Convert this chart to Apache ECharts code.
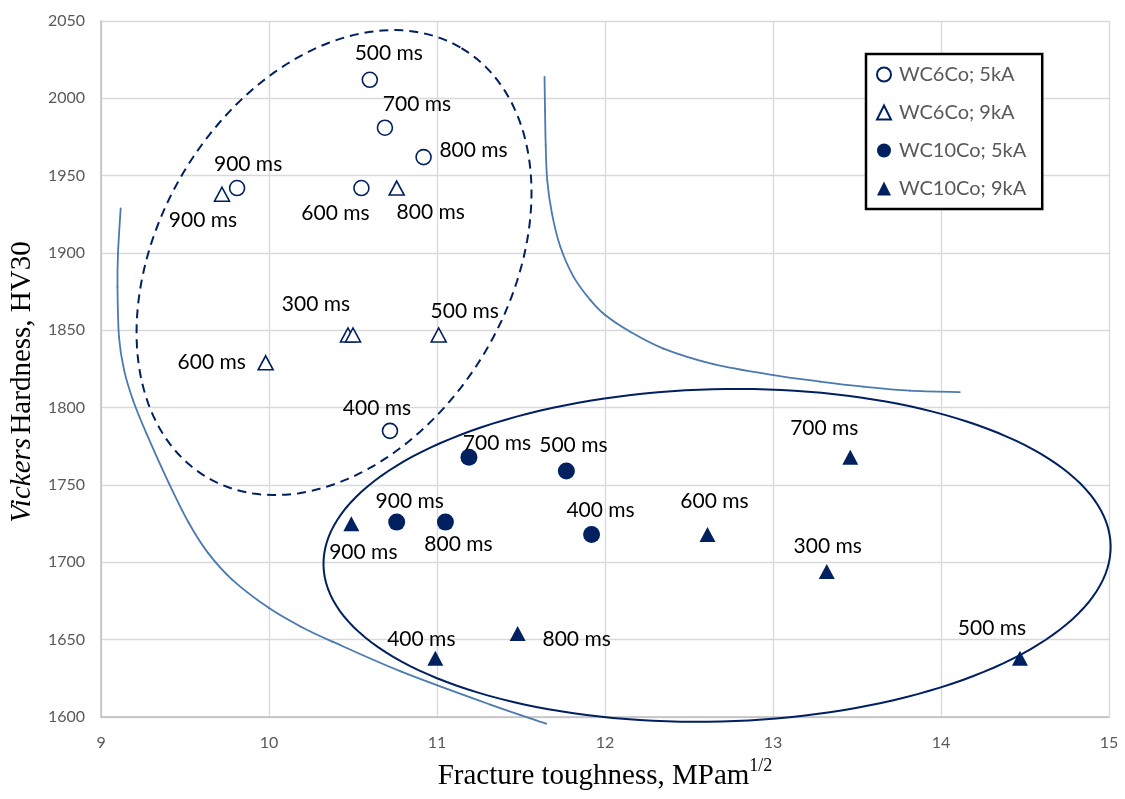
<!DOCTYPE html>
<html><head><meta charset="utf-8">
<script src="https://cdn.jsdelivr.net/npm/echarts@6/dist/echarts.min.js"></script>
<style>html,body{margin:0;padding:0;background:#fff}#c{width:1125px;height:799px}</style>
</head><body><div id="c"></div>
<script>
// ---------- data ----------
const seriesNames = ['WC6Co; 5kA', 'WC6Co; 9kA', 'WC10Co; 5kA', 'WC10Co; 9kA'];

const wc6_5kA_toughness = [10.60, 10.69, 10.92, 9.81, 10.55, 10.72];
const wc6_5kA_hardness  = [2012, 1981, 1962, 1942, 1942, 1785];
const wc6_5kA_labels    = ['500 ms', '700 ms', '800 ms', '900 ms', '600 ms', '400 ms'];

const wc6_9kA_toughness = [9.72, 10.76, 10.47, 10.50, 11.01, 9.98];
const wc6_9kA_hardness  = [1938, 1942, 1847, 1847, 1847, 1829];
const wc6_9kA_labels    = ['900 ms', '800 ms', '300 ms', '', '500 ms', '600 ms'];

const wc10_5kA_toughness = [11.19, 11.77, 10.76, 11.05, 11.92];
const wc10_5kA_hardness  = [1768, 1759, 1726, 1726, 1718];
const wc10_5kA_labels    = ['700 ms', '500 ms', '900 ms', '800 ms', '400 ms'];

const wc10_9kA_toughness = [10.49, 10.99, 11.48, 13.46, 12.61, 13.32, 14.47];
const wc10_9kA_hardness  = [1725, 1638, 1654, 1768, 1718, 1694, 1638];
const wc10_9kA_labels    = ['900 ms', '400 ms', '800 ms', '700 ms', '600 ms', '300 ms', '500 ms'];

// hand-drawn guide curves (annotation)
const leftCurveX  = [9.117, 9.101, 9.098, 9.107, 9.137, 9.190, 9.269, 9.403, 9.522, 9.637, 9.782, 9.998, 10.190, 10.378, 10.788, 11.317, 11.650];
const leftCurveY  = [1928.8, 1899.7, 1878.2, 1845.7, 1824.4, 1805.0, 1783.7, 1751.4, 1725.6, 1706.1, 1688.7, 1670.6, 1658.4, 1648.7, 1629.3, 1608.0, 1595.7];
const rightCurveX = [11.640, 11.643, 11.647, 11.656, 11.684, 11.734, 11.813, 11.912, 12.001, 12.150, 12.348, 12.645, 13.002, 13.279, 13.537, 13.814, 14.112];
const rightCurveY = [2013.8, 1992.3, 1969.7, 1947.1, 1925.6, 1904.0, 1884.6, 1869.7, 1859.9, 1849.1, 1838.2, 1828.2, 1821.1, 1816.9, 1813.6, 1811.0, 1810.1];

// ---------- layout (label offsets in px from marker centre) ----------
const wc6_5kA_off  = [[19,-27],[32,-23],[50,-7],[11,-24],[-26,25],[-13,-23]];
const wc6_9kA_off  = [[-19,26],[34,24],[-32,-31],[0,0],[26,-24],[-54,-1]];
const wc10_5kA_off = [[28,-14],[7,-26],[13,-21],[13,22],[9,-24]];
const wc10_9kA_off = [[12,29],[-14,-19],[59,6],[-26,-29],[7,-33],[1,-25],[-28,-30]];

const NAVY = '#002060';
const CURVE = '#4a7ab0';
const LBL_FONT = 'Lato, "Noto Sans", sans-serif';
const SERIF = '"Liberation Serif", "Times New Roman", serif';

function pts(xs, ys, labels, offs) {
  return xs.map((x, i) => ({
    value: [x, ys[i]],
    name: labels[i],
    label: { show: labels[i] !== '', offset: offs[i] }
  }));
}

const labelStyle = {
  position: 'inside', formatter: p => p.name,
  color: '#000', fontSize: 21, fontFamily: LBL_FONT
};

const chart = echarts.init(document.getElementById('c'), null, { renderer: 'canvas' });

const option = {
  backgroundColor: '#fff',
  animation: false,
  grid: { left: 100, right: 16, top: 21, bottom: 82 },
  xAxis: {
    type: 'value', min: 9, max: 15, interval: 1,
    axisLine: { show: true, lineStyle: { color: '#bfbfbf', width: 1.5 } },
    axisTick: { show: false },
    splitLine: { show: true, lineStyle: { color: '#d9d9d9', width: 1.3 } },
    axisLabel: { color: '#595959', fontSize: 16, fontFamily: LBL_FONT, margin: 18, formatter: v => String(v) },
    name: '{a|Fracture toughness, MPam}{b|1/2}',
    nameLocation: 'middle', nameGap: 40,
    nameTextStyle: {
      rich: {
        a: { fontFamily: SERIF, fontSize: 29, color: '#000', lineHeight: 34, verticalAlign: 'bottom' },
        b: { fontFamily: SERIF, fontSize: 18, color: '#000', lineHeight: 34, verticalAlign: 'top' }
      }
    }
  },
  yAxis: {
    type: 'value', min: 1600, max: 2050, interval: 50,
    axisLine: { show: true, lineStyle: { color: '#bfbfbf', width: 1.5 } },
    axisTick: { show: false },
    splitLine: { show: true, lineStyle: { color: '#d9d9d9', width: 1.3 } },
    axisLabel: { color: '#595959', fontSize: 16, fontFamily: LBL_FONT, margin: 16, formatter: v => String(v) },
    name: '{i|Vickers} {n|Hardness, HV30}',
    nameLocation: 'middle', nameGap: 54,
    nameTextStyle: {
      padding: [0, 26, 0, 0],
      rich: {
        i: { fontFamily: SERIF, fontStyle: 'italic', fontSize: 29, color: '#000' },
        n: { fontFamily: SERIF, fontSize: 29, color: '#000' }
      }
    }
  },
  legend: {
    data: seriesNames,
    orient: 'vertical', left: 866, top: 54,
    padding: [10, 16, 10, 10],
    itemWidth: 14, itemHeight: 14, itemGap: 17,
    borderColor: '#000', borderWidth: 2.5, backgroundColor: '#fff',
    textStyle: { color: '#595959', fontSize: 20, fontFamily: LBL_FONT, lineHeight: 21, padding: [0, 0, 0, 3] }
  },
  series: [
    {
      name: seriesNames[0], type: 'scatter', symbol: 'circle', symbolSize: 15,
      itemStyle: { color: '#fff', borderColor: NAVY, borderWidth: 1.6, opacity: 1 },
      label: labelStyle,
      data: pts(wc6_5kA_toughness, wc6_5kA_hardness, wc6_5kA_labels, wc6_5kA_off)
    },
    {
      name: seriesNames[1], type: 'scatter', symbol: 'triangle', symbolSize: [15, 14],
      itemStyle: { color: '#fff', borderColor: NAVY, borderWidth: 1.6, opacity: 1 },
      label: labelStyle,
      data: pts(wc6_9kA_toughness, wc6_9kA_hardness, wc6_9kA_labels, wc6_9kA_off)
    },
    {
      name: seriesNames[2], type: 'scatter', symbol: 'circle', symbolSize: 17,
      itemStyle: { color: NAVY, opacity: 1 },
      label: labelStyle,
      data: pts(wc10_5kA_toughness, wc10_5kA_hardness, wc10_5kA_labels, wc10_5kA_off)
    },
    {
      name: seriesNames[3], type: 'scatter', symbol: 'triangle', symbolSize: [16, 15],
      itemStyle: { color: NAVY, opacity: 1 },
      label: labelStyle,
      data: pts(wc10_9kA_toughness, wc10_9kA_hardness, wc10_9kA_labels, wc10_9kA_off)
    }
  ]
};
chart.setOption(option);

// group outlines (annotation ellipses): centre in data units, semi-axes px, rotation deg
const dashedOutline = [10.387, 1893.8, 249.5, 175.5, -59.3];
const solidOutline  = [12.667, 1704.5, 393.7, 166.2, -1.5];

function toPx(x, y) { return chart.convertToPixel({ gridIndex: 0 }, [x, y]); }

function ellipsePoints(def) {
  const c = toPx(def[0], def[1]);
  const a = def[2], b = def[3], th = def[4] * Math.PI / 180;
  const out = [];
  for (let k = 0; k < 180; k++) {
    const t = k / 180 * 2 * Math.PI;
    const ex = a * Math.cos(t), ey = b * Math.sin(t);
    out.push([c[0] + ex * Math.cos(th) - ey * Math.sin(th),
              c[1] + ex * Math.sin(th) + ey * Math.cos(th)]);
  }
  return out;
}

// guide curve through the picked points as smooth bezier pieces (Catmull-Rom)
function curvePieces(xs, ys) {
  const p = xs.map((x, i) => toPx(x, ys[i]));
  const n = p.length, els = [];
  for (let i = 0; i < n - 1; i++) {
    const p0 = p[Math.max(0, i - 1)], p1 = p[i], p2 = p[i + 1], p3 = p[Math.min(n - 1, i + 2)];
    els.push({
      type: 'bezierCurve', z: 1, silent: true,
      shape: {
        x1: p1[0], y1: p1[1], x2: p2[0], y2: p2[1],
        cpx1: p1[0] + (p2[0] - p0[0]) / 6, cpy1: p1[1] + (p2[1] - p0[1]) / 6,
        cpx2: p2[0] - (p3[0] - p1[0]) / 6, cpy2: p2[1] - (p3[1] - p1[1]) / 6
      },
      style: { fill: 'none', stroke: CURVE, lineWidth: 1.8, lineCap: 'round' }
    });
  }
  return els;
}

chart.setOption({
  graphic: [
    { type: 'polygon', z: 1, silent: true, shape: { points: ellipsePoints(dashedOutline) },
      style: { fill: 'none', stroke: NAVY, lineWidth: 2, lineDash: [9, 6] } },
    { type: 'polygon', z: 1, silent: true, shape: { points: ellipsePoints(solidOutline) },
      style: { fill: 'none', stroke: NAVY, lineWidth: 2 } }
  ].concat(curvePieces(leftCurveX, leftCurveY), curvePieces(rightCurveX, rightCurveY))
});
</script>
</body></html>
